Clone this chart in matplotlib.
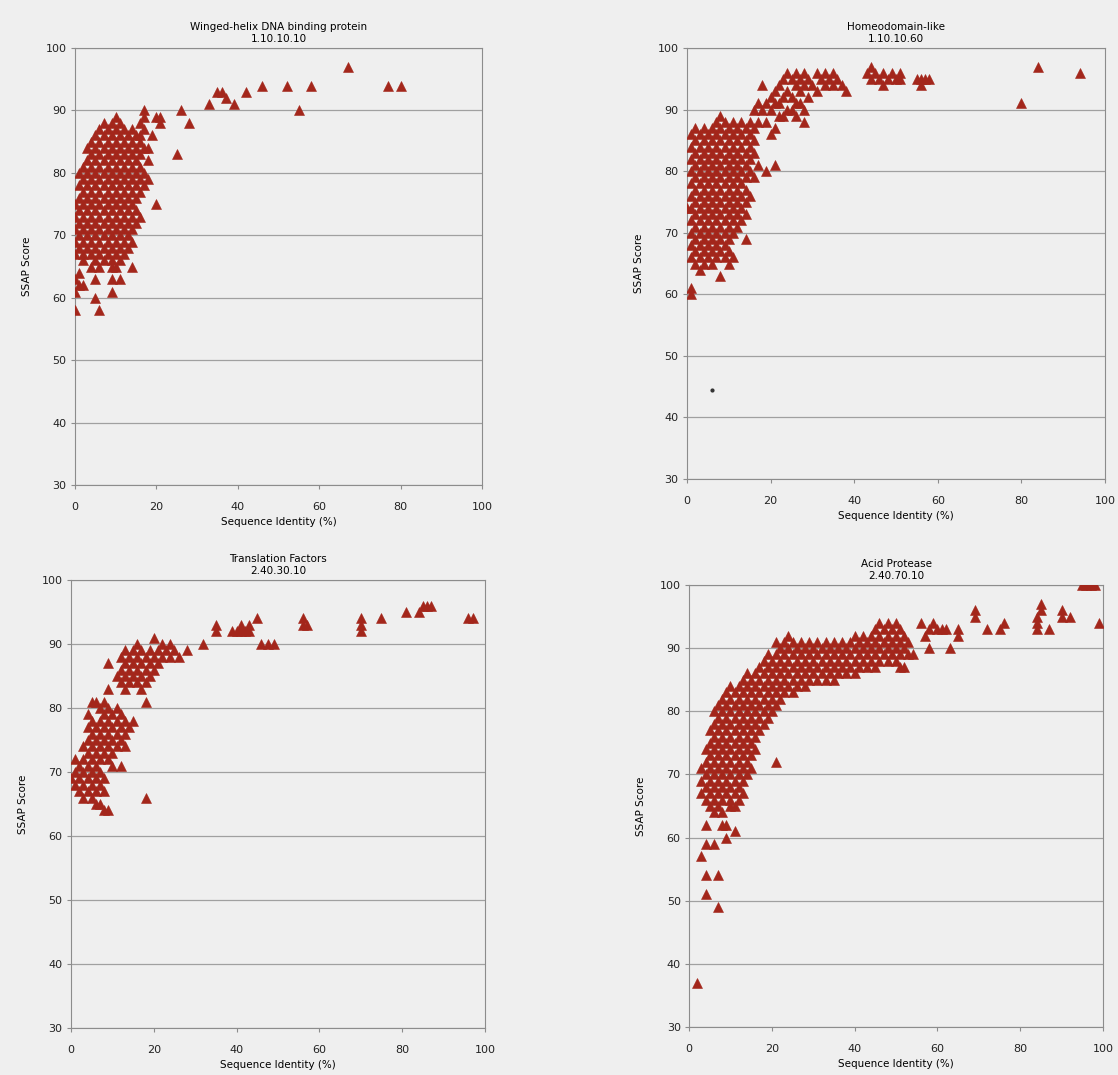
import matplotlib
matplotlib.use('Agg')
import matplotlib.pyplot as plt

# =============================================
# Data: SSAP score vs sequence identity
# dense part stored as {identity: [ssap, ...]}, sparse points as (x, y)
# =============================================
winged_title = 'Winged-helix DNA binding protein\n1.10.10.10'
winged_cols = {
    0: [58, 61, 63, 67, 69, 71, 73, 75],
    1: [62, 64, 68, 70, 72, 74, 76, 78, 80],
    2: [62, 66, 67, 69, 71, 73, 75, 77, 79, 81],
    3: [68, 70, 72, 74, 76, 78, 80, 82, 84],
    4: [65, 67, 69, 71, 73, 75, 77, 79, 81, 83, 85],
    5: [60, 63, 66, 68, 70, 72, 74, 76, 78, 80, 82, 84, 86],
    6: [58, 65, 67, 69, 71, 73, 75, 77, 79, 81, 83, 85, 87],
    7: [66, 68, 70, 72, 74, 76, 78, 80, 82, 84, 86, 88],
    8: [67, 69, 71, 73, 75, 77, 79, 81, 83, 85, 87],
    9: [61, 63, 65, 66, 68, 70, 72, 74, 76, 78, 80, 82, 84, 86, 88],
    10: [65, 67, 69, 71, 73, 75, 77, 79, 81, 83, 85, 87, 89],
    11: [63, 66, 68, 70, 72, 74, 76, 78, 80, 82, 84, 86, 88],
    12: [67, 69, 71, 73, 75, 77, 79, 81, 83, 85, 87],
    13: [68, 70, 72, 74, 76, 78, 80, 82, 84, 86],
    14: [65, 69, 71, 73, 75, 77, 79, 81, 83, 85, 87],
    15: [72, 74, 76, 78, 80, 82, 84, 86],
    16: [73, 77, 79, 81, 83, 85, 86, 88],
    17: [78, 80, 84, 87, 89, 90],
    18: [79, 82, 84],
    19: [86],
    20: [75, 89],
    21: [88, 89],
}
winged_sparse = [(25, 83), (26, 90), (28, 88), (33, 91), (35, 93), (36, 93),
                 (37, 92), (39, 91), (42, 93), (46, 94), (52, 94), (55, 90),
                 (58, 94), (67, 97), (77, 94), (80, 94)]

homeo_title = 'Homeodomain-like\n1.10.10.60'
homeo_cols = {
    0: [74],
    1: [60, 61, 66, 68, 70, 72, 74, 76, 78, 80, 82, 84, 86],
    2: [65, 67, 69, 71, 73, 75, 77, 79, 81, 83, 85, 87],
    3: [64, 66, 68, 70, 72, 74, 76, 78, 80, 82, 84, 86],
    4: [65, 67, 69, 71, 73, 75, 77, 79, 81, 83, 85, 87],
    5: [66, 68, 70, 72, 74, 76, 78, 80, 82, 84, 86],
    6: [65, 67, 69, 71, 73, 75, 77, 79, 81, 83, 85, 87],
    7: [66, 68, 70, 72, 74, 76, 78, 80, 82, 84, 86, 88],
    8: [63, 67, 69, 71, 73, 75, 77, 79, 81, 83, 85, 87, 89],
    9: [66, 68, 70, 72, 74, 76, 78, 80, 82, 84, 86, 88],
    10: [65, 67, 69, 71, 73, 75, 77, 79, 81, 83, 85, 87],
    11: [66, 70, 72, 74, 76, 78, 80, 82, 84, 86, 88],
    12: [71, 73, 75, 77, 79, 81, 83, 85, 87],
    13: [72, 74, 76, 78, 80, 82, 84, 86, 88],
    14: [69, 73, 75, 77, 79, 81, 83, 85, 87],
    15: [76, 80, 82, 84, 86, 88],
    16: [79, 83, 85, 87, 90],
    17: [81, 88, 91],
    18: [90, 94],
    19: [80, 88, 91],
    20: [86, 90, 92],
    21: [81, 87, 91, 93],
    22: [89, 91, 94],
    23: [89, 92, 95],
    24: [90, 93, 96],
    25: [90, 92, 95],
    26: [89, 91, 94, 96],
    27: [91, 93, 95],
    28: [88, 90, 94, 96],
    29: [92, 95],
    30: [94],
    31: [93, 96],
    32: [95],
    33: [94, 96],
    34: [95],
    35: [94, 96],
    36: [95],
    37: [94],
    38: [93],
}
homeo_sparse = [(43, 96), (44, 97), (44, 95), (45, 96), (46, 95), (47, 94),
                (47, 96), (48, 95), (49, 96), (50, 95), (51, 96), (51, 95),
                (55, 95), (56, 94), (56, 95), (57, 95), (58, 95),
                (80, 91), (84, 97), (94, 96)]
homeo_dot = (6, 44.5)

transl_title = 'Translation Factors\n2.40.30.10'
transl_cols = {
    0: [69],
    1: [68, 70, 72],
    2: [67, 69, 71],
    3: [66, 68, 70, 72, 74],
    4: [67, 69, 71, 73, 75, 77, 79],
    5: [66, 68, 70, 72, 74, 76, 78, 81],
    6: [65, 67, 69, 71, 73, 75, 77, 81],
    7: [65, 68, 70, 72, 74, 76, 78, 80],
    8: [64, 67, 69, 73, 75, 77, 79, 81],
    9: [64, 72, 74, 76, 78, 80, 83, 87],
    10: [71, 73, 75, 77, 79],
    11: [74, 76, 78, 80, 85],
    12: [71, 75, 77, 79, 84, 86, 88],
    13: [74, 76, 78, 83, 85, 87, 89],
    14: [77, 84, 86, 88],
    15: [78, 85, 87, 89],
    16: [84, 86, 88, 90],
    17: [83, 85, 87, 89],
    18: [66, 81, 84, 86, 88],
    19: [85, 87, 89],
    20: [86, 88, 91],
    21: [87, 89],
    22: [88, 90],
    23: [89],
    24: [88, 90],
    25: [89],
    26: [88],
    28: [89],
}
transl_sparse = [(32, 90), (35, 92), (35, 93), (39, 92), (40, 92), (41, 92),
                 (41, 93), (42, 92), (43, 92), (43, 93), (45, 94), (46, 90),
                 (47.5, 90), (49, 90), (56, 93), (56, 94), (57, 93), (70, 92),
                 (70, 93), (70, 94), (75, 94), (81, 95), (84, 95), (85, 96),
                 (86, 96), (87, 96), (96, 94), (97, 94)]

acid_title = 'Acid Protease\n2.40.70.10'
acid_cols = {
    3: [57, 67, 69, 71],
    4: [51, 54, 59, 62, 66, 68, 70, 72, 74],
    5: [65, 67, 69, 71, 73, 75, 77],
    6: [59, 64, 66, 68, 70, 72, 74, 76, 78, 80],
    7: [49, 54, 65, 67, 69, 71, 73, 75, 77, 79, 81],
    8: [62, 64, 66, 68, 70, 72, 74, 76, 78, 80, 82],
    9: [60, 62, 67, 69, 71, 73, 75, 77, 79, 81, 83],
    10: [65, 66, 68, 70, 72, 74, 76, 78, 80, 82, 84],
    11: [61, 65, 67, 69, 71, 73, 75, 77, 79, 81, 83],
    12: [66, 68, 70, 72, 74, 76, 78, 80, 82, 84],
    13: [67, 69, 71, 73, 75, 77, 79, 81, 83, 85],
    14: [70, 72, 74, 76, 78, 80, 82, 84, 86],
    15: [71, 73, 75, 77, 79, 81, 83, 85],
    16: [74, 76, 78, 80, 82, 84, 86],
    17: [77, 79, 81, 83, 85, 87],
    18: [78, 80, 82, 84, 86, 88],
    19: [79, 81, 83, 85, 87, 89],
    20: [80, 82, 84, 86, 88],
    21: [72, 81, 83, 85, 87, 89, 91],
    22: [82, 84, 86, 88, 90],
    23: [83, 85, 87, 89, 91],
    24: [84, 86, 88, 90, 92],
    25: [83, 85, 87, 89, 91],
    26: [84, 86, 88, 90],
    27: [85, 87, 89, 91],
    28: [84, 86, 88, 90],
    29: [85, 87, 89, 91],
    30: [86, 88, 90],
    31: [85, 87, 89, 91],
    32: [86, 88, 90],
    33: [85, 87, 89, 91],
    34: [86, 88, 90],
    35: [85, 87, 89, 91],
    36: [86, 88, 90],
    37: [87, 89, 91],
    38: [86, 88, 90],
    39: [87, 89, 91],
    40: [86, 88, 90, 92],
    41: [87, 89, 91],
    42: [88, 90, 92],
    43: [87, 89, 91],
    44: [88, 90, 92],
    45: [87, 89, 91, 93],
    46: [88, 90, 92, 94],
    47: [89, 91, 93],
    48: [88, 90, 92, 94],
    49: [89, 91, 93],
    50: [88, 90, 92, 94],
    51: [87, 89, 91, 93],
    52: [87, 90, 92],
    53: [89, 91],
    54: [89],
}
acid_sparse = [(2, 37), (56, 94), (57, 92), (58, 90), (58, 93), (59, 94),
               (60, 93), (61, 93), (62, 93), (63, 90), (65, 92), (65, 93),
               (69, 95), (69, 96), (72, 93), (75, 93), (76, 94), (84, 93),
               (84, 94), (84, 95), (85, 96), (85, 97), (87, 93), (90, 95),
               (90, 96), (92, 95), (95, 100), (96, 100), (97, 100), (98, 100),
               (99, 94)]

# =============================================
# Plotting
# =============================================
RED = '#a3261b'
BG = '#efefef'

def unpack(cols, sparse):
    xs, ys = [], []
    for x, vals in cols.items():
        xs += [x] * len(vals)
        ys += vals
    for x, y in sparse:
        xs.append(x)
        ys.append(y)
    return xs, ys

panels = [
    (winged_title, winged_cols, winged_sparse, [0.0671, 0.5488, 0.3640, 0.4065]),
    (homeo_title, homeo_cols, homeo_sparse, [0.6145, 0.5544, 0.3739, 0.4009]),
    (transl_title, transl_cols, transl_sparse, [0.0635, 0.0437, 0.3703, 0.4168]),
    (acid_title, acid_cols, acid_sparse, [0.6163, 0.0447, 0.3703, 0.4111]),
]

fig = plt.figure(figsize=(11.18, 10.75), dpi=100, facecolor=BG)

for i, (title, cols, sparse, rect) in enumerate(panels):
    ax = fig.add_axes(rect)
    ax.set_facecolor(BG)
    xs, ys = unpack(cols, sparse)
    ax.plot(xs, ys, linestyle='none', marker='^', markersize=7.2,
            color=RED, markeredgecolor=RED, markeredgewidth=0.4, zorder=3)
    if i == 1:
        ax.plot([homeo_dot[0]], [homeo_dot[1]], linestyle='none', marker='o',
                markersize=2, color='#333333', zorder=3)
    ax.set_xlim(0, 100)
    ax.set_ylim(30, 100)
    ax.set_xticks(range(0, 101, 20))
    ax.set_yticks(range(30, 101, 10))
    ax.yaxis.grid(True, color='#a0a0a0', linewidth=0.9)
    ax.set_axisbelow(True)
    for s in ax.spines.values():
        s.set_color('#8c8c8c')
        s.set_linewidth(0.8)
    ax.tick_params(axis='y', length=3, pad=3, labelsize=8, colors='#8c8c8c',
                   labelcolor='#222222')
    ax.tick_params(axis='x', length=3, pad=9, labelsize=8, colors='#8c8c8c',
                   labelcolor='#222222')
    ax.set_title(title, fontsize=7.5, pad=4, linespacing=1.25)
    ax.set_xlabel('Sequence Identity (%)', fontsize=7.5, labelpad=4)
    ax.set_ylabel('SSAP Score', fontsize=7.5, labelpad=10)

fig.savefig('out.png', dpi=100, facecolor=BG)
